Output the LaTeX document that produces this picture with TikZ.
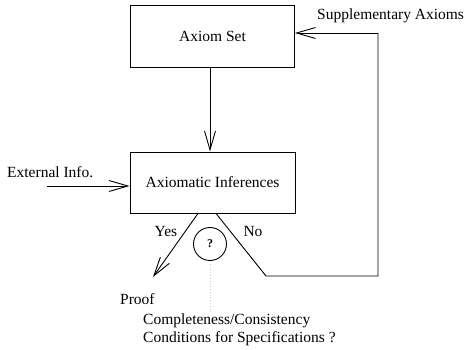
\documentclass[tikz,border=0pt]{standalone}
\usepackage{fontspec}
\setmainfont{Liberation Serif}
\usetikzlibrary{arrows.meta}
\begin{document}
\begin{tikzpicture}[x=1pt,y=-1pt,
  every node/.style={font=\fontsize{15.5}{18}\selectfont},
  box/.style={draw,line width=0.9pt,rectangle,inner sep=0pt},
  lbl/.style={inner sep=0pt},
  arr/.style={line width=0.9pt,-{Straight Barb[length=19pt,width=11pt,line width=0.9pt]}},
  ln/.style={line width=0.9pt}]
\useasboundingbox (0,0) rectangle (464,350);
\node[box,minimum width=164pt,minimum height=62pt] (axiom) at (212.5,36) {Axiom Set};
\node[box,minimum width=165pt,minimum height=61pt] (infer) at (212.5,182.5) {Axiomatic Inferences};
\node[lbl,anchor=west] (ext) at (7,172) {External Info.};
\coordinate (extstart) at (47,186);
\node[lbl,anchor=west] (supp) at (317,16) {Supplementary Axioms};
\node[draw,circle,line width=0.9pt,minimum size=33pt,inner sep=0pt] (q) at (210,244) {\fontsize{12}{14}\selectfont\bfseries ?};
\node[lbl] (yes) at (166,232) {Yes};
\node[lbl] (no) at (253,232) {No};
\node[lbl,anchor=west] (proof) at (120,299) {Proof};
\node[lbl,anchor=north west,align=left] (cond) at (143,314) {Completeness/Consistency\\Conditions for Specifications ?};
\coordinate (ptip) at (153,277);
\coordinate (qend) at (210,313);
\coordinate (n1) at (266,276);
\coordinate (n2) at (378,276);
\coordinate (n3) at (378,33);
% connectors
\draw[arr] ([xshift=-2.5pt]axiom.south) -- ([xshift=-2.5pt]infer.north);
\draw[arr] (extstart) -- (extstart -| infer.west);
\draw[arr] ([xshift=-14.5pt]infer.south) -- (ptip);
\draw[ln] ([xshift=3.5pt]infer.south) -- (n1) -- (n2) -- (n3);
\draw[arr] (n3) -- (n3 -| axiom.east);
\draw[gray!40,line width=0.8pt,dotted] (q.south) -- (qend);
\end{tikzpicture}
\end{document}
